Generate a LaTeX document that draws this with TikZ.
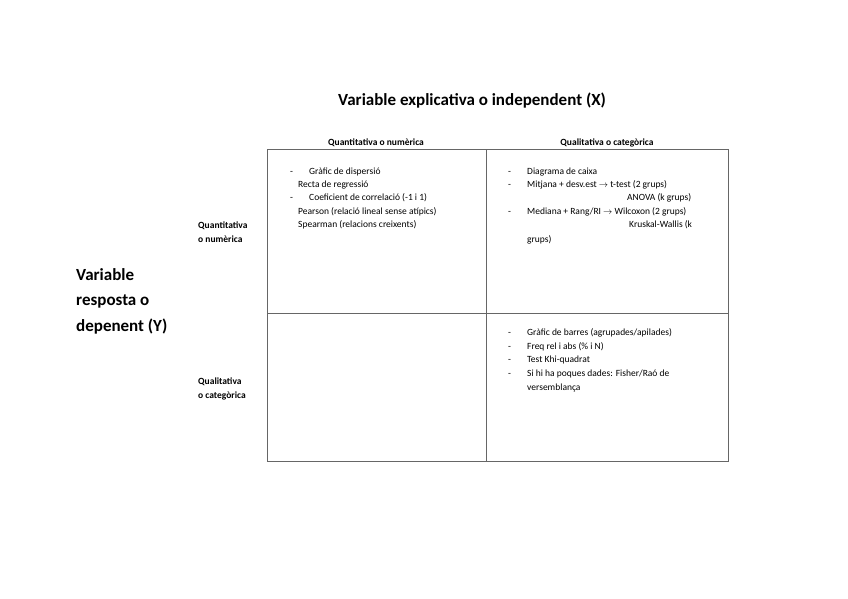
\documentclass[tikz,border=0pt]{standalone}
\usepackage{fontspec}
\setmainfont{Carlito}
\begin{document}
\begin{tikzpicture}[x=1pt,y=-1pt,
  t/.style={anchor=base west,inner sep=0pt,font=\fontsize{9.5}{11}\selectfont},
  h/.style={anchor=base,inner sep=0pt,font=\bfseries\fontsize{9.5}{11}\selectfont},
  big/.style={anchor=base west,inner sep=0pt,font=\bfseries\fontsize{17}{20}\selectfont},
  grid/.style={draw=black!60,line width=0.8pt}]
\useasboundingbox (0,0) rectangle (848,599);
\draw[grid] (267,149) rectangle (728,461);
\draw[grid] (486,149) -- (486,461);
\draw[grid] (267,313) -- (728,313);
\node[big] (title) at (338,106) {Variable explicativa o independent (X)};
\node[big] (y1) at (76,280) {Variable};
\node[big] (y2) at (76,305) {resposta o};
\node[big] (y3) at (76,331) {depenent (Y)};
\node[h] (c1) at (376,146) {Quantitativa o numèrica};
\node[h] (c2) at (607,146) {Qualitativa o categòrica};
\node[t,font=\bfseries\fontsize{9.5}{11}\selectfont] (r1a) at (198,228) {Quantitativa};
\node[t,font=\bfseries\fontsize{9.5}{11}\selectfont] (r1b) at (198,242) {o numèrica};
\node[t,font=\bfseries\fontsize{9.5}{11}\selectfont] (r2a) at (198,384) {Qualitativa};
\node[t,font=\bfseries\fontsize{9.5}{11}\selectfont] (r2b) at (198,398) {o categòrica};
% cell 1
\node[t] (a0) at (290,174) {-};
\node[t] (a1) at (309,174) {Gràfic de dispersió};
\node[t] (a2) at (298,187) {Recta de regressió};
\node[t] (a3) at (290,200) {-};
\node[t] (a4) at (309,200) {Coeficient de correlació (-1 i 1)};
\node[t] (a5) at (298,214) {Pearson (relació lineal sense atípics)};
\node[t] (a6) at (298,227) {Spearman (relacions creixents)};
% cell 2
\node[t] (b0) at (508,174) {-};
\node[t] (b1) at (527,174) {Diagrama de caixa};
\node[t] (b2) at (508,187) {-};
\node[t] (b3) at (527,187) {Mitjana + desv.est $\rightarrow$ t-test (2 grups)};
\node[t] (b4) at (627,200) {ANOVA (k grups)};
\node[t] (b5) at (508,214) {-};
\node[t] (b6) at (527,214) {Mediana + Rang/RI $\rightarrow$ Wilcoxon (2 grups)};
\node[t] (b7) at (629,227) {Kruskal-Wallis (k};
\node[t] (b8) at (527,242) {grups)};
% cell 4
\node[t] (d0) at (508,335) {-};
\node[t] (d1) at (527,335) {Gràfic de barres (agrupades/apilades)};
\node[t] (d2) at (508,349) {-};
\node[t] (d3) at (527,349) {Freq rel i abs (\% i N)};
\node[t] (d4) at (508,362) {-};
\node[t] (d5) at (527,362) {Test Khi-quadrat};
\node[t] (d6) at (508,376) {-};
\node[t] (d7) at (527,376) {Si hi ha poques dades: Fisher/Raó de};
\node[t] (d8) at (527,390) {versemblança};
\end{tikzpicture}
\end{document}
